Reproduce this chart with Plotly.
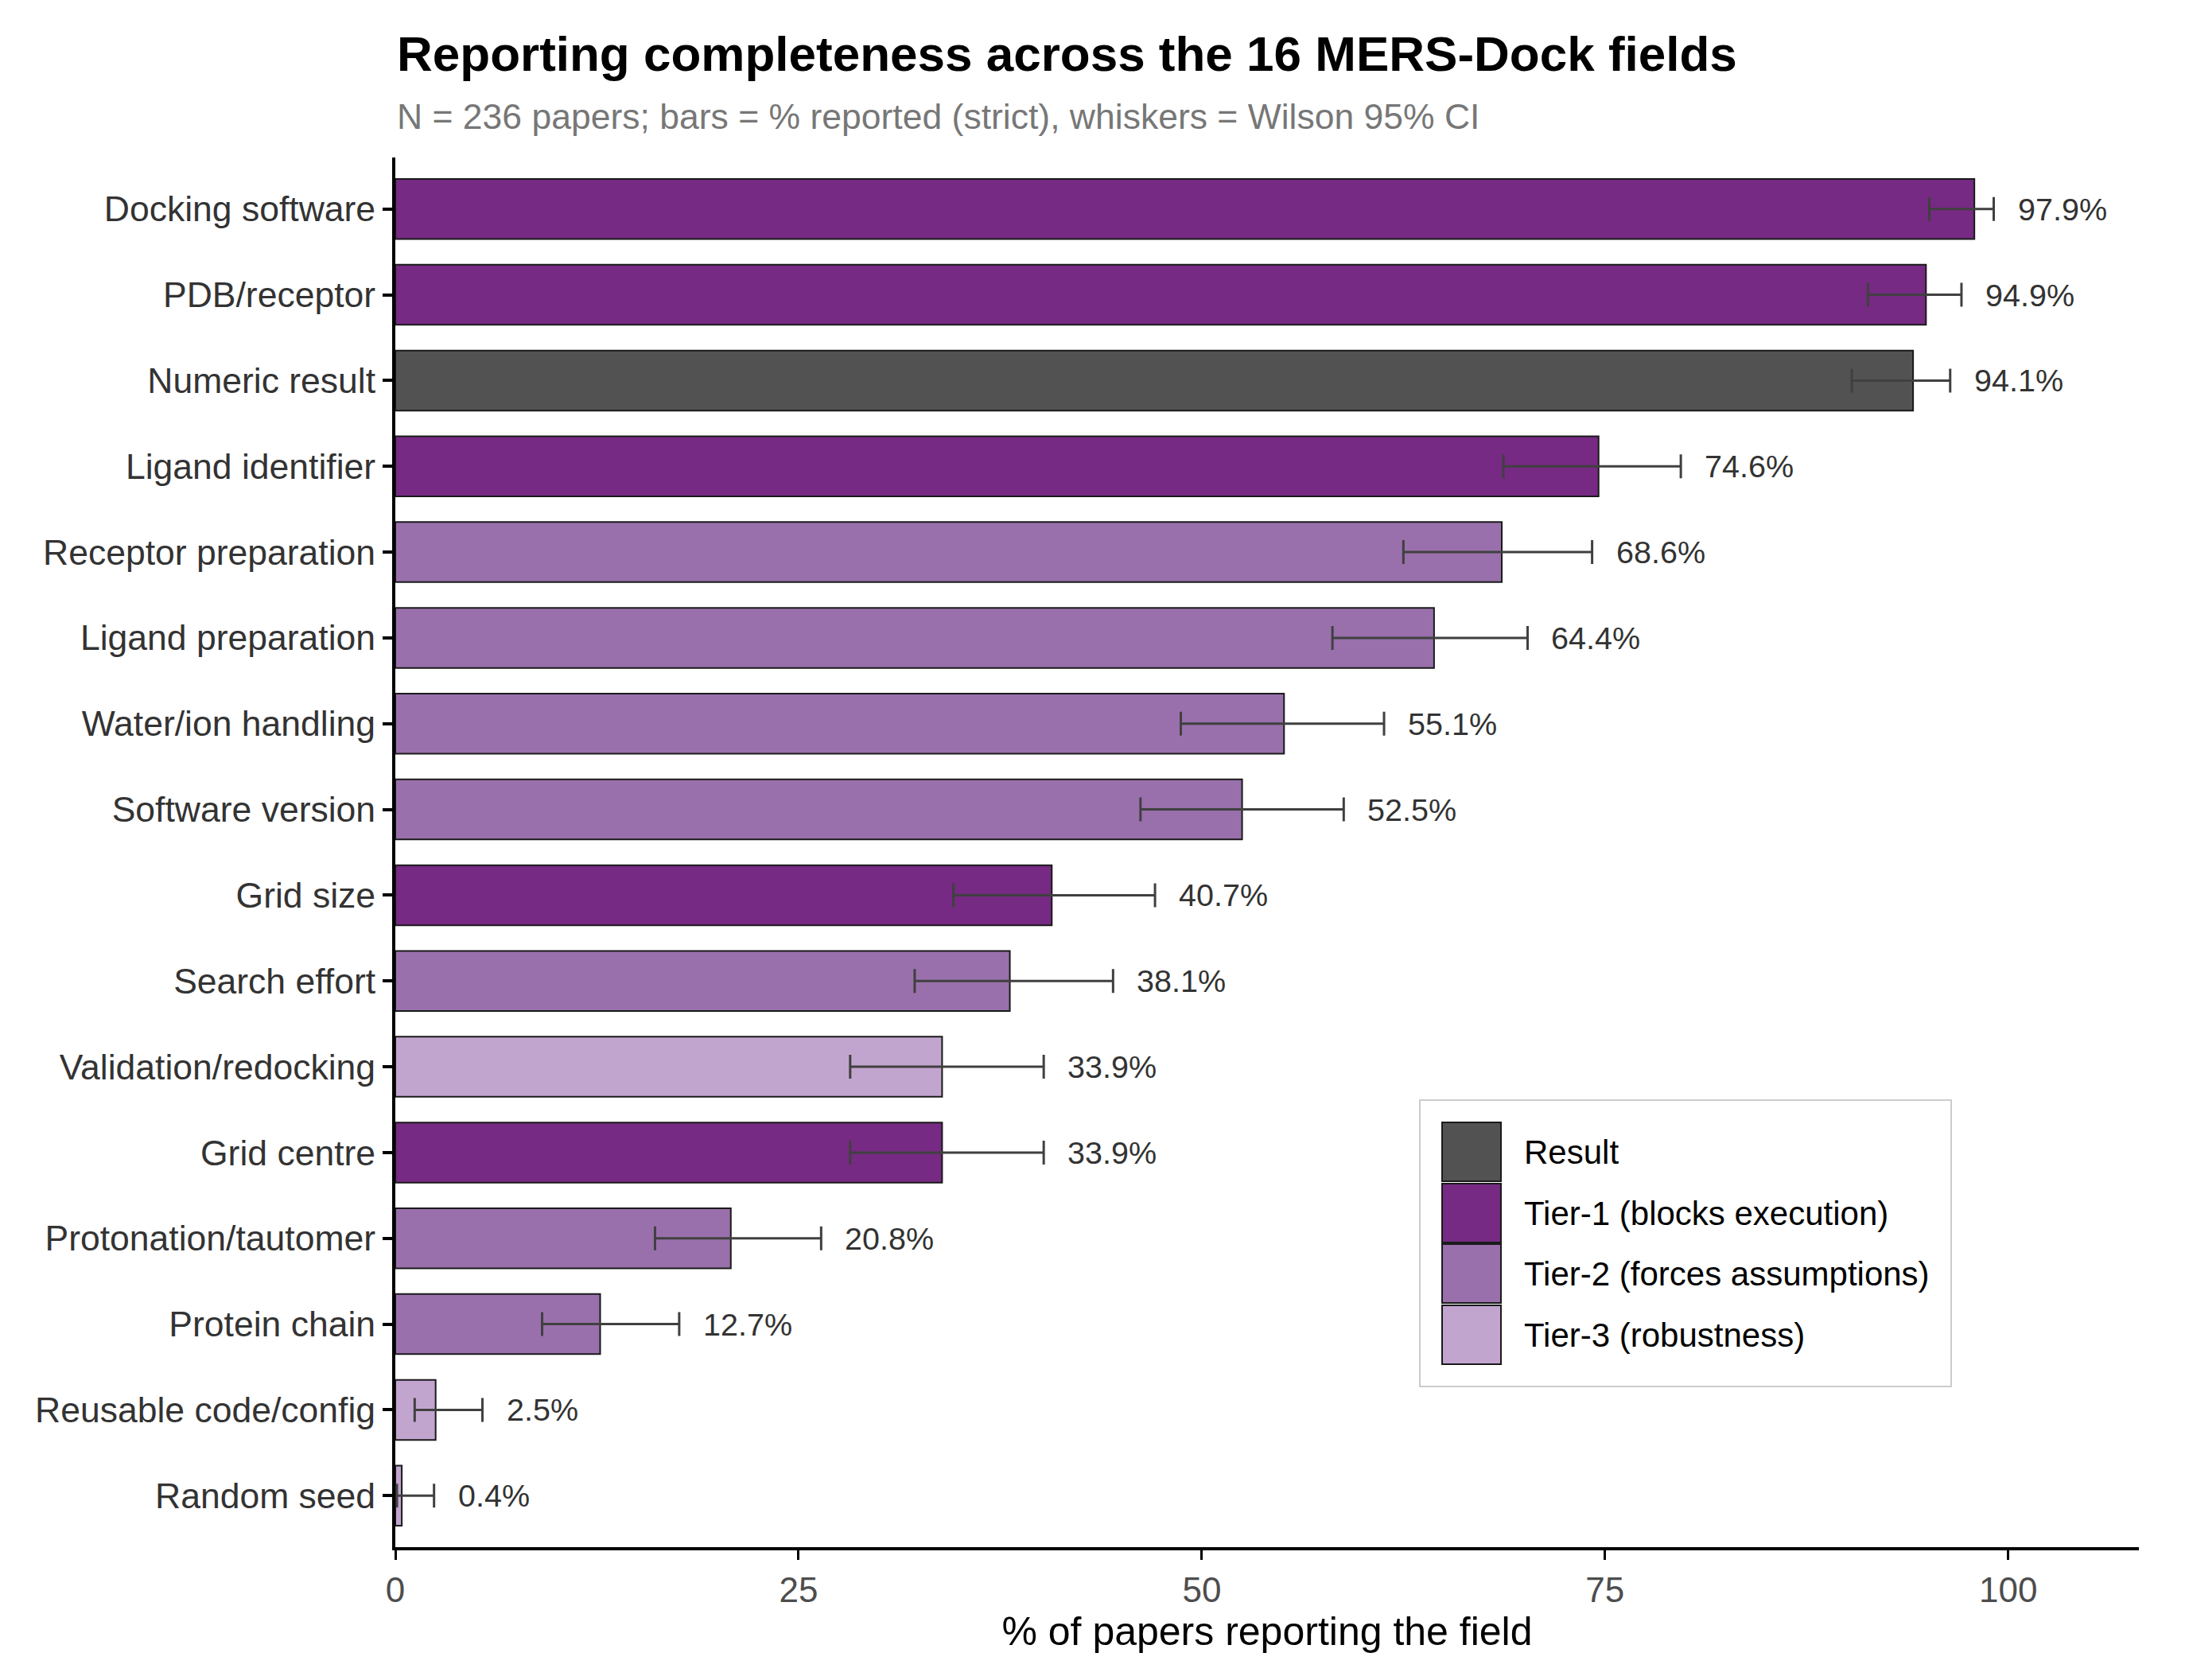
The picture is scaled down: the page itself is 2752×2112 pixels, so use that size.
import plotly.graph_objects as go

fields = ["Docking software", "PDB/receptor", "Numeric result", "Ligand identifier",
          "Receptor preparation", "Ligand preparation", "Water/ion handling",
          "Software version", "Grid size", "Search effort", "Validation/redocking",
          "Grid centre", "Protonation/tautomer", "Protein chain",
          "Reusable code/config", "Random seed"]
pct = [97.9, 94.9, 94.1, 74.6, 68.6, 64.4, 55.1, 52.5, 40.7, 38.1, 33.9, 33.9,
       20.8, 12.7, 2.5, 0.4]
ci_low = [95.1, 91.3, 90.3, 68.7, 62.5, 58.1, 48.7, 46.2, 34.6, 32.2, 28.2, 28.2,
          16.1, 9.1, 1.2, 0.1]
ci_high = [99.1, 97.1, 96.4, 79.7, 74.2, 70.2, 61.3, 58.8, 47.1, 44.5, 40.2, 40.2,
           26.4, 17.6, 5.4, 2.4]
tiers = ["Tier-1", "Tier-1", "Result", "Tier-1", "Tier-2", "Tier-2", "Tier-2",
         "Tier-2", "Tier-1", "Tier-2", "Tier-3", "Tier-1", "Tier-2", "Tier-2",
         "Tier-3", "Tier-3"]
legend_names = ["Result", "Tier-1 (blocks execution)", "Tier-2 (forces assumptions)",
                "Tier-3 (robustness)"]
legend_keys = ["Result", "Tier-1", "Tier-2", "Tier-3"]
tier_colors = {"Result": "#525252", "Tier-1": "#762a83", "Tier-2": "#9970ab",
               "Tier-3": "#c2a5cf"}

W, H = 2752, 2112
L, R, T, B = 497, 63, 198, 167
PW, PH = W - L - R, H - T - B

def px_x(p):
    return (p - L) / PW

def px_y(p):
    return (H - B - p) / PH

FONT = "Liberation Sans, Arial, Helvetica, sans-serif"

fig = go.Figure()
fig.add_trace(go.Bar(
    y=fields, x=pct, orientation="h", width=0.7,
    marker=dict(color=[tier_colors[t] for t in tiers],
                line=dict(color="#1a1a1a", width=2)),
    error_x=dict(type="data", symmetric=False,
                 array=[h - p for h, p in zip(ci_high, pct)],
                 arrayminus=[p - l for p, l in zip(pct, ci_low)],
                 color="#404040", thickness=3, width=15),
    showlegend=False, hoverinfo="skip",
))

annotations = []
for f, h, p in zip(fields, ci_high, pct):
    annotations.append(dict(x=h, y=f, xref="x", yref="y", text=f"{p:.1f}%",
                            showarrow=False, xanchor="left", yanchor="middle",
                            xshift=28, font=dict(family=FONT, size=39.5, color="#333333")))

shapes = []
# legend box
shapes.append(dict(type="rect", xref="paper", yref="paper",
                   x0=px_x(1785), x1=px_x(2453), y0=px_y(1743), y1=px_y(1383),
                   line=dict(color="#cccccc", width=2), fillcolor="white", layer="above"))
key_tops = [1411, 1488, 1564, 1641]
for k, name, top in zip(legend_keys, legend_names, key_tops):
    shapes.append(dict(type="rect", xref="paper", yref="paper",
                       x0=px_x(1813), x1=px_x(1887), y0=px_y(top + 74), y1=px_y(top),
                       line=dict(color="#1a1a1a", width=2), fillcolor=tier_colors[k],
                       layer="above"))
    annotations.append(dict(x=px_x(1914), y=px_y(top + 37), xref="paper", yref="paper",
                            text=name, showarrow=False, xanchor="left", yanchor="middle",
                            font=dict(family=FONT, size=42, color="#000000")))

# title and subtitle
annotations.append(dict(x=0, y=px_y(68), xref="paper", yref="paper",
                        text="<b>Reporting completeness across the 16 MERS-Dock fields</b>",
                        showarrow=False, xanchor="left", yanchor="middle",
                        font=dict(family=FONT, size=62, color="#000000")))
annotations.append(dict(x=0, y=px_y(147), xref="paper", yref="paper",
                        text="N = 236 papers; bars = % reported (strict), whiskers = Wilson 95% CI",
                        showarrow=False, xanchor="left", yanchor="middle",
                        font=dict(family=FONT, size=44.5, color="#777777")))

fig.update_layout(
    width=W, height=H,
    margin=dict(l=L, r=R, t=T, b=B, autoexpand=False),
    paper_bgcolor="white", plot_bgcolor="white",
    font=dict(family=FONT),
    annotations=annotations, shapes=shapes,
    bargap=0.3,
)
fig.update_xaxes(
    range=[0, 108.1], tickvals=[0, 25, 50, 75, 100],
    showgrid=False, zeroline=False,
    showline=True, linecolor="black", linewidth=4,
    ticks="outside", ticklen=12, tickwidth=3, tickcolor="black",
    tickfont=dict(family=FONT, size=44, color="#4d4d4d"),
    title=dict(text="% of papers reporting the field", standoff=10,
               font=dict(family=FONT, size=50, color="#000000")),
)
fig.update_yaxes(
    categoryorder="array", categoryarray=fields[::-1], range=[-0.6, 15.6],
    showgrid=False, zeroline=False,
    showline=True, linecolor="black", linewidth=4,
    ticks="outside", ticklen=12, tickwidth=4, tickcolor="black",
    tickfont=dict(family=FONT, size=44.5, color="#333333"),
)

fig.write_html("out.html")
